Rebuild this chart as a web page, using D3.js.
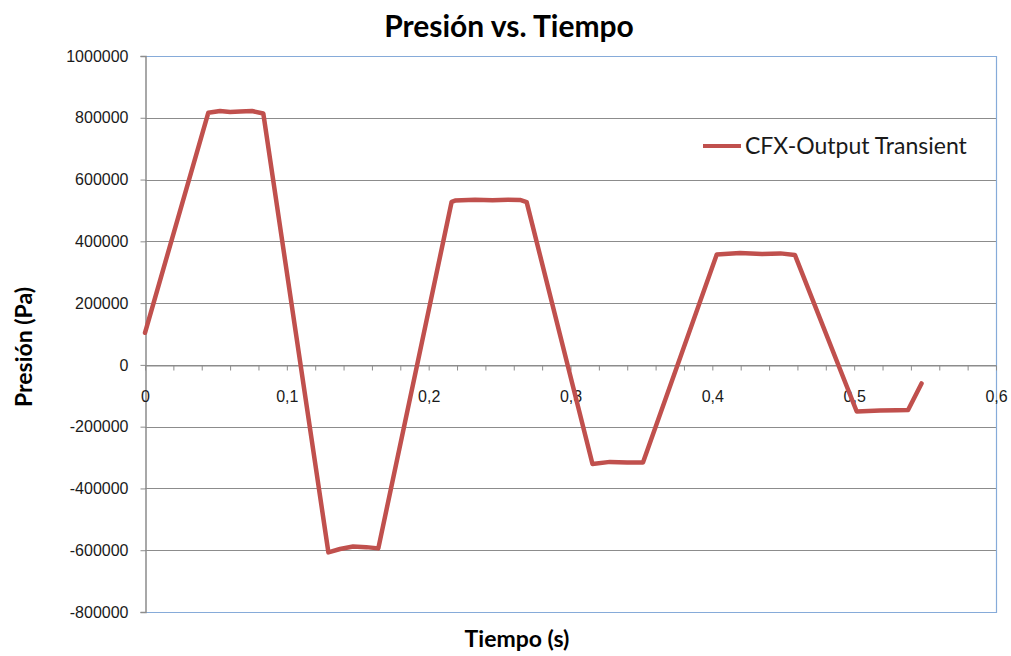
<!DOCTYPE html>
<html>
<head>
<meta charset="utf-8">
<script src="https://cdn.jsdelivr.net/npm/d3@7"></script>
<style>
  html, body { margin: 0; padding: 0; background: #fff; }
  svg { display: block; font-family: Lato, "Open Sans", sans-serif; }
</style>
</head>
<body>
<svg id="chart" width="1011" height="656"></svg>
<script>
// Pressure trace exported from CFX (time in s, pressure in Pa)
const tiempo = [0, 0.0446, 0.0529, 0.0600, 0.0670, 0.0754, 0.0834,
  0.1293, 0.1375, 0.1467, 0.1560, 0.1645,
  0.2162, 0.2186, 0.2327, 0.2450, 0.2560, 0.2644, 0.2691,
  0.3155, 0.3278, 0.3400, 0.3511,
  0.4031, 0.4195, 0.4350, 0.4480, 0.4582,
  0.5018, 0.5182, 0.5300, 0.5380, 0.5475];
const presion = [104000, 816000, 822000, 819000, 820000, 822000, 814000,
  -607000, -596000, -588000, -590000, -594000,
  528000, 532000, 535000, 533000, 535000, 534000, 527000,
  -321000, -314000, -316000, -316000,
  357000, 362000, 359000, 361000, 356000,
  -151000, -148000, -147000, -146000, -60000];

const yTicks = [-800000, -600000, -400000, -200000, 0, 200000, 400000, 600000, 800000, 1000000];
const xLabelTicks = [0, 0.1, 0.2, 0.3, 0.4, 0.5, 0.6];
const xMinorTicks = d3.range(0, 0.6001, 0.02);

const seriesName = "CFX-Output Transient";
const title = "Presión vs. Tiempo";
const xTitle = "Tiempo (s)";
const yTitle = "Presión (Pa)";

const svg = d3.select("#chart");
const plot = { left: 145, top: 56, right: 996, bottom: 612 };

const x = d3.scaleLinear().domain([0, 0.6]).range([plot.left, plot.right]);
const y = d3.scaleLinear().domain([-800000, 1000000]).range([plot.bottom, plot.top]);

const gridColor = "#8c8c8c";
const borderColor = "#86abd9";
const lineColor = "#c0504d";
const textColor = "#1a1a1a";

// horizontal gridlines
svg.append("g")
  .selectAll("line")
  .data(yTicks)
  .join("line")
  .attr("x1", plot.left).attr("x2", plot.right)
  .attr("y1", d => Math.round(y(d)) + 0.5).attr("y2", d => Math.round(y(d)) + 0.5)
  .attr("stroke", gridColor).attr("stroke-width", 1);

// plot-area border (top, right, bottom)
svg.append("path")
  .attr("d", `M${plot.left},${plot.top + 0.5}H${plot.right + 0.5}V${plot.bottom + 0.5}H${plot.left}`)
  .attr("fill", "none").attr("stroke", borderColor).attr("stroke-width", 1.2);

// y axis
const yAxis = d3.axisLeft(y)
  .tickValues(yTicks)
  .tickSize(5)
  .tickPadding(12)
  .tickFormat(d => String(d));
const gy = svg.append("g")
  .attr("transform", `translate(${plot.left + 0.5},0)`)
  .call(yAxis);
gy.select(".domain").attr("stroke", gridColor).attr("stroke-width", 1.5);
gy.selectAll(".tick line").attr("stroke", gridColor);
gy.selectAll(".tick text")
  .attr("fill", textColor)
  .style("font-size", "16px");

// x axis sitting on p = 0
const labelSet = new Set(xLabelTicks.map(v => v.toFixed(2)));
const xAxis = d3.axisBottom(x)
  .tickValues(xMinorTicks)
  .tickSize(5)
  .tickSizeOuter(0)
  .tickFormat(d => labelSet.has(d.toFixed(2)) ? String(+d.toFixed(1)).replace(".", ",") : "");
const gx = svg.append("g")
  .attr("transform", `translate(0,${Math.round(y(0)) + 0.5})`)
  .call(xAxis);
gx.select(".domain").attr("stroke", gridColor).attr("stroke-width", 1);
gx.selectAll(".tick line").attr("stroke", gridColor);
gx.selectAll(".tick text")
  .attr("fill", textColor)
  .attr("y", 36).attr("dy", "0")
  .style("font-size", "16px");

// series line
const data = tiempo.map((t, i) => ({ t, p: presion[i] }));
const line = d3.line().x(d => x(d.t)).y(d => y(d.p));
svg.append("path")
  .datum(data)
  .attr("d", line)
  .attr("fill", "none")
  .attr("stroke", lineColor)
  .attr("stroke-width", 4.5)
  .attr("stroke-linejoin", "round")
  .attr("stroke-linecap", "round");

// legend
svg.append("line")
  .attr("x1", 703).attr("x2", 741).attr("y1", 146).attr("y2", 146)
  .attr("stroke", lineColor).attr("stroke-width", 4);
svg.append("text")
  .attr("x", 745).attr("y", 154)
  .attr("fill", textColor)
  .style("font-size", "23px")
  .text(seriesName);

// titles
svg.append("text")
  .attr("x", 509).attr("y", 37)
  .attr("text-anchor", "middle")
  .attr("fill", "#000")
  .style("font-size", "30px").style("font-weight", "bold")
  .text(title);

svg.append("text")
  .attr("x", 517).attr("y", 647)
  .attr("text-anchor", "middle")
  .attr("fill", "#000")
  .style("font-size", "23px").style("font-weight", "bold")
  .text(xTitle);

svg.append("text")
  .attr("transform", "translate(32,347) rotate(-90)")
  .attr("text-anchor", "middle")
  .attr("fill", "#000")
  .style("font-size", "23px").style("font-weight", "bold")
  .text(yTitle);
</script>
</body>
</html>
